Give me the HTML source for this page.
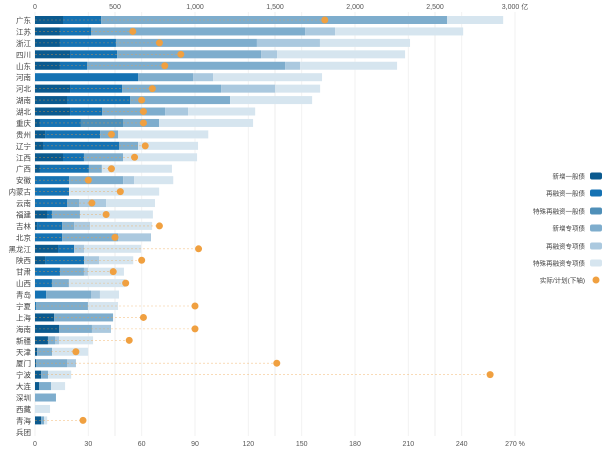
<!DOCTYPE html>
<html><head><meta charset="utf-8"><style>
body{margin:0;background:#fff;}
svg{display:block;font-family:"Liberation Sans","Noto Sans CJK SC",sans-serif;}
</style></head><body>
<svg id="c" width="605" height="452"></svg>
<script>
const provinces=["广东","江苏","浙江","四川","山东","河南","河北","湖南","湖北","重庆","贵州","辽宁","江西","广西","安徽","内蒙古","云南","福建","吉林","北京","黑龙江","陕西","甘肃","山西","青岛","宁夏","上海","海南","新疆","天津","厦门","宁波","大连","深圳","西藏","青海","兵团"];
const newGeneral=[175,156,156,219,156,0,219,200,219,31,63,50,175,31,0,0,0,75,13,0,144,63,0,0,0,0,119,150,81,13,6,38,25,0,0,38,0];
const refiGeneral=[238,194,350,294,169,644,325,394,200,256,344,475,131,306,213,213,200,31,156,169,100,244,156,106,69,6,0,0,0,0,0,0,0,0,0,0,0];
const specRefiGeneral=[0,0,0,0,0,0,0,0,0,263,0,0,0,0,0,0,0,0,0,0,0,0,0,0,0,0,0,0,0,0,0,0,0,0,0,0,0];
const newSpecial=[2163,1338,881,900,1238,344,619,625,394,225,113,119,244,81,338,0,75,175,75,350,0,0,150,106,281,325,369,206,44,94,194,44,75,131,0,19,0];
const refiSpecial=[0,188,394,100,94,125,338,0,144,0,0,0,0,0,69,0,169,0,100,206,63,94,25,0,56,0,0,119,25,0,56,0,0,0,0,0,0];
const specRefiSpecial=[350,800,563,800,606,681,281,513,419,588,563,375,463,438,244,563,306,456,388,0,356,213,225,350,119,188,0,0,213,225,0,144,88,0,94,19,0];
const ratio=[163,55,70,82,73,null,66,60,61,61,43,62,56,43,30,48,32,40,70,45,92,60,44,51,null,90,61,90,53,23,136,256,null,null,null,27,null];
const topTicks=[0,500,1000,1500,2000,2500,3000];
const topTickLabels=["0","500","1,000","1,500","2,000","2,500","3,000"];
const botTicks=[0,30,60,90,120,150,180,210,240,270];
const seriesNames=["新增一般债","再融资一般债","特殊再融资一般债","新增专项债","再融资专项债","特殊再融资专项债"];
const colors=["#0b5a8f","#1572b3","#4f8fb8","#7eadcd","#abc9df","#d6e5ef"];
const series=[newGeneral,refiGeneral,specRefiGeneral,newSpecial,refiSpecial,specRefiSpecial];
const X0=35,X1=515;
const xTop=v=>X0+(X1-X0)*v/3000;
const xBot=v=>X0+(X1-X0)*v/270;
const yRow=i=>20+i*11.44;
const NS="http://www.w3.org/2000/svg";
const svg=document.getElementById('c');
function mk(t,a,p){const e=document.createElementNS(NS,t);for(const k in a)e.setAttribute(k,a[k]);(p||svg).appendChild(e);return e;}
topTicks.forEach((t,i)=>{const g=mk('line',{x1:xTop(t),x2:xTop(t),y1:12,y2:436,stroke:'#ececec','stroke-width':1});


const tx=mk('text',{x:xTop(t),y:9,'font-size':7,fill:'#555','text-anchor':'middle'});tx.textContent=topTickLabels[i]+(t===3000?'  亿':'');

});
botTicks.forEach(t=>{const g=mk('line',{x1:xBot(t),x2:xBot(t),y1:12,y2:436,stroke:'#f2f2f2','stroke-width':1});


const tx=mk('text',{x:xBot(t),y:446,'font-size':7,fill:'#555','text-anchor':'middle'});tx.textContent=t+(t===270?'  %':'');

});
provinces.forEach((p,i)=>{
  const y=yRow(i);
  const lb=mk('text',{x:31,y:y+3,'font-size':7.5,fill:'#444','text-anchor':'end'});lb.textContent=p;
  
  
  let acc=0;
  series.forEach((s,k)=>{const v=s[i];if(v>0){const r=mk('rect',{x:xTop(acc),y:y-4,width:xTop(acc+v)-xTop(acc),height:8,fill:colors[k]});
    
    }
    acc+=v;});
  if(ratio[i]!=null){
    const l=mk('line',{x1:X0,x2:xBot(ratio[i]),y1:y,y2:y,stroke:'#f0a040','stroke-width':0.6,'stroke-dasharray':'2,2',opacity:0.6});
    
    
    const c=mk('circle',{cx:xBot(ratio[i]),cy:y,r:3.5,fill:'#f0a040'});
    
    
  }
});
const ly=[176,193,211,228,246,263];
seriesNames.forEach((n,k)=>{
  const t=mk('text',{x:585,y:ly[k]+2.5,'font-size':6.5,fill:'#444','text-anchor':'end'});t.textContent=n;
  
  
  const r=mk('rect',{x:590,y:ly[k]-3.5,width:12,height:7,rx:2,fill:colors[k]});
  
  
});
const t=mk('text',{x:585,y:282.5,'font-size':6.5,fill:'#444','text-anchor':'end'});t.textContent="实际/计划(下轴)";


const lc=mk('circle',{cx:596,cy:280,r:3.5,fill:'#f0a040'});


</script>
</body></html>
